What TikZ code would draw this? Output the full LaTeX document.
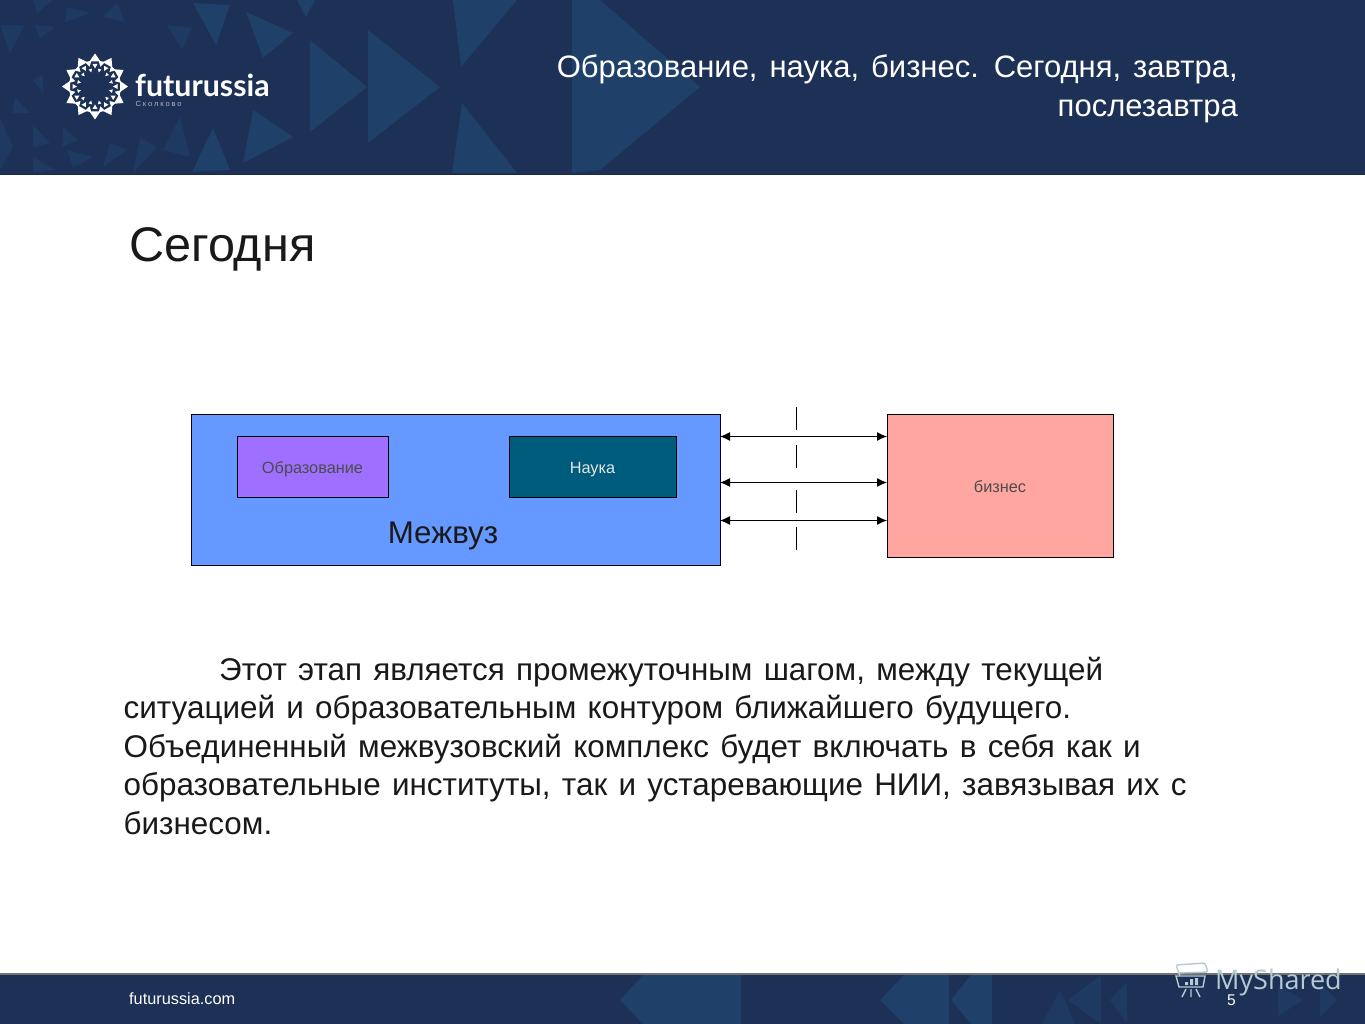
\documentclass[tikz,border=0pt]{standalone}
\usepackage{fontspec}
\setmainfont{Liberation Sans}
\newfontfamily\wmfont{Open Sans}
\newfontfamily\logofont{Lato}
\newfontfamily\subfont[LetterSpace=25]{Liberation Sans}
\usetikzlibrary{arrows.meta}
\definecolor{bandblue}{HTML}{1D3055}
\definecolor{tileblue}{HTML}{1F4068}
\definecolor{tilefaint}{HTML}{1E3A63}
\definecolor{mezhblue}{HTML}{6699FF}
\definecolor{eduviolet}{HTML}{9F70FF}
\definecolor{scienceteal}{HTML}{005C7D}
\definecolor{bizpink}{HTML}{FFA6A0}
\definecolor{wmgrey}{HTML}{B4CBD2}
\newcommand{\titlefont}{\fontsize{31}{36}\selectfont\spaceskip 12pt\relax}
\newcommand{\bodyfont}{\fontsize{31.4}{36}\selectfont\spaceskip 11.3pt\relax}
\tikzset{
  blockbox/.style={rectangle,draw=black,line width=1pt,inner sep=0pt,outer sep=0pt},
  smalltext/.style={font=\fontsize{16.3}{19}\selectfont,text=black!70!white,anchor=base,inner sep=0pt},
  titletext/.style={font=\titlefont,text=white,anchor=base east,inner sep=0pt},
  bodytext/.style={font=\bodyfont,text=black!90,anchor=base west,inner sep=0pt},
  link/.style={line width=1.1pt,{Latex[length=10pt,width=9pt]}-{Latex[length=10pt,width=9pt]}}
}
\begin{document}
\begin{tikzpicture}[x=1pt,y=-1pt]
  \useasboundingbox (0,0) rectangle (1365,1024);
  % bands
  \fill[white] (0,0) rectangle (1365,1024);
  \fill[bandblue] (0,0) rectangle (1365,175);
  \fill[tileblue] (572,0) -- (600,0) -- (700,87) -- (600,170) -- (572,173) -- cycle;
  \fill[tileblue] (453,0) -- (517,0) -- (461,67) -- cycle;
  \fill[tileblue] (462,103) -- (517,173) -- (452,173) -- cycle;
  \fill[tileblue] (368,30) -- (440,87) -- (368,143) -- cycle;
  \fill[tileblue] (310,40) -- (367,87) -- (310,132) -- cycle;
  \fill[tileblue] (246,12) -- (293,33) -- (263,58) -- cycle;
  \fill[tileblue] (253,110) -- (293,137) -- (243,163) -- cycle;
  \fill[tileblue] (193,3) -- (230,5) -- (216,45) -- cycle;
  \fill[tileblue] (213,128) -- (230,170) -- (192,172) -- cycle;
  \fill[tileblue] (297,0) -- (315,0) -- (306,17) -- cycle;
  \fill[tilefaint] (180,117) -- (190,157) -- (163,150) -- cycle;
  \fill[tilefaint] (167,25) -- (192,28) -- (182,50) -- cycle;
  \fill[tilefaint] (67,7) -- (90,13) -- (65,22) -- cycle;
  \fill[tilefaint] (103,17) -- (117,3) -- (125,22) -- cycle;
  \fill[tilefaint] (35,25) -- (55,27) -- (40,38) -- cycle;
  \fill[tilefaint] (0,25) -- (25,25) -- (10,53) -- cycle;
  \fill[tilefaint] (33,0) -- (53,0) -- (37,13) -- cycle;
  \fill[tilefaint] (0,117) -- (13,147) -- (0,170) -- cycle;
  \fill[tilefaint] (33,125) -- (50,143) -- (33,147) -- cycle;
  \fill[tilefaint] (63,127) -- (78,140) -- (62,147) -- cycle;
  \fill[tilefaint] (110,143) -- (127,150) -- (103,167) -- cycle;
  \fill[tilefaint] (140,138) -- (157,147) -- (133,173) -- cycle;
  \fill[tilefaint] (33,157) -- (55,170) -- (33,173) -- cycle;
  \fill[tilefaint] (67,150) -- (93,157) -- (73,168) -- cycle;
  \fill[tilefaint] (15,97) -- (30,113) -- (12,113) -- cycle;
  \fill[tilefaint] (33,80) -- (43,75) -- (43,93) -- cycle;
  \fill[bandblue!85!black] (0,174) rectangle (1365,175);
  \fill[bandblue] (0,974) rectangle (1365,1024);
  \fill[black!55] (0,973) rectangle (1365,975);
  \fill[tileblue] (620,1000) -- (643,975) -- (741,975) -- (741,1024) -- (643,1024) -- cycle;
  \fill[tileblue] (880,1000) -- (904,975) -- (949,975) -- (949,1024) -- (904,1024) -- cycle;
  \fill[tileblue] (951,1000) -- (971,975) -- (992,975) -- (992,1024) -- (971,1024) -- cycle;
  \fill[tilefaint] (1068,1000) -- (1101,975) -- (1101,1024) -- cycle;
  \fill[tilefaint] (1110,1000) -- (1127,982) -- (1127,1023) -- cycle;
  \fill[tilefaint] (1042,1024) -- (1060,990) -- (1075,1024) -- cycle;
  \fill[tilefaint] (1278,985) -- (1303,1000) -- (1278,1016) -- cycle;
  \fill[tilefaint] (1320,983) -- (1337,1000) -- (1320,1017) -- cycle;
  % logo
  \foreach \ang in {0,30,...,330}{
    \fill[white,shift={(95,86.5)},rotate=\ang] (33,0) -- (25,-5.5) -- (25,5.5) -- cycle;
    \fill[white,shift={(95,86.5)},rotate=\ang+15] (26,-3.2) -- (26,3.2) -- (20.5,0) -- cycle;
    \fill[white,shift={(95,86.5)},rotate=\ang] (22.5,-2.5) -- (22.5,2.5) -- (18,0) -- cycle;
    \fill[white,shift={(95,86.5)},rotate=\ang+15] (18,-1.8) -- (18,1.8) -- (14.5,0) -- cycle;
  }
  \node[font=\logofont\bfseries\fontsize{30.3}{33}\selectfont,text=white,anchor=base west,inner sep=0pt] (logoname) at (135,97) {futurussia};
  \node[font=\subfont\fontsize{7.5}{8}\selectfont,text=white!65!bandblue,anchor=base west,inner sep=0pt] (logosub) at (135.5,107) {Сколково};
  % titles
  \node[titletext] (titleone) at (1238,78) {Образование, наука, бизнес. Сегодня, завтра,};
  \node[titletext] (titletwo) at (1238,117) {послезавтра};
  \node[font=\fontsize{48.6}{52}\selectfont,text=black!90,anchor=base west,inner sep=0pt] (today) at (129,262) {Сегодня};
  % diagram
  \node[blockbox,fill=mezhblue,minimum width=529pt,minimum height=151pt] (mezhvuz) at (455.5,490) {};
  \node[blockbox,fill=eduviolet,minimum width=151pt,minimum height=61pt] (edu) at (312.5,467) {};
  \node[smalltext] (edulabel) at (312.5,473) {Образование};
  \node[blockbox,fill=scienceteal,minimum width=167pt,minimum height=61pt] (science) at (592.5,467) {};
  \node[smalltext,text=white!90!black] (sciencelabel) at (592.5,473) {Наука};
  \node[font=\fontsize{31.3}{36}\selectfont,text=black!90,anchor=base,inner sep=0pt] (mezhlabel) at (443,543) {Межвуз};
  \node[blockbox,fill=bizpink,minimum width=226pt,minimum height=143pt] (biz) at (1000,486) {};
  \node[smalltext] (bizlabel) at (1000,492) {бизнес};
  \coordinate (dashtop) at (796.5,407);
  \coordinate (dashbot) at (796.5,551);
  \draw[line width=1pt,dash pattern=on 23pt off 15pt on 23pt off 22pt on 23pt off 14pt on 23pt off 1pt] (dashtop) -- (dashbot);
  \draw[link] (mezhvuz.east |- 0,436.5) -- (biz.west |- 0,436.5);
  \draw[link] (mezhvuz.east |- 0,482.5) -- (biz.west |- 0,482.5);
  \draw[link] (mezhvuz.east |- 0,520.5) -- (biz.west |- 0,520.5);
  % body text
  \node[bodytext] (lineone) at (219,680) {Этот этап является промежуточным шагом, между текущей};
  \node[bodytext] (linetwo) at (123.5,718.5) {ситуацией и образовательным контуром ближайшего будущего.};
  \node[bodytext] (linethree) at (123.5,757) {Объединенный межвузовский комплекс будет включать в себя как и};
  \node[bodytext] (linefour) at (123.5,795) {образовательные институты, так и устаревающие НИИ, завязывая их с};
  \node[bodytext] (linefive) at (123.5,834) {бизнесом.};
  % footer
  \node[font=\fontsize{16.3}{20}\selectfont,text=white,anchor=base west,inner sep=0pt] (site) at (129,1004) {futurussia.com};
  \node[font=\fontsize{15.5}{18}\selectfont,text=white,anchor=base,inner sep=0pt] (pagenum) at (1231.5,1005.5) {5};
  % watermark
  \node[font=\wmfont\fontsize{27}{32}\selectfont,text=wmgrey,anchor=base west,inner sep=0pt] (watermark) at (1215,989) {MyShared};
  \draw[wmgrey,line width=1.4pt,rounded corners=1.5pt] (1180,976) -- (1176,965) -- (1205,963) -- (1208,972) -- (1178,973);
  \draw[wmgrey,line width=1.4pt] (1176,976) -- (1205,976) -- (1203,987) -- (1179,987) -- cycle;
  \fill[wmgrey] (1185,982) rectangle (1188,985) (1190,979) rectangle (1193,985) (1195,978) rectangle (1198,985);
  \draw[wmgrey,line width=1.4pt] (1186,989) -- (1182,997) (1191,989) -- (1191,997) (1196,989) -- (1200,997);
\end{tikzpicture}
\end{document}
